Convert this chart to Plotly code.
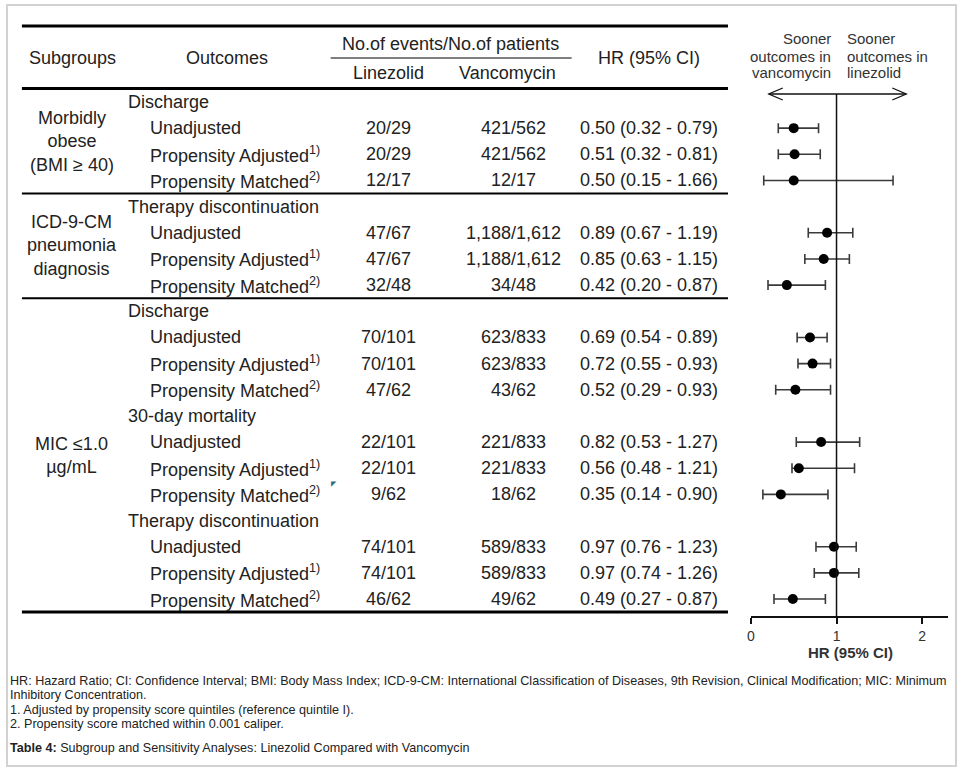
import plotly.graph_objects as go

# ---------------- data ----------------
outcome_labels = [
    "Discharge", "Unadjusted", "Propensity Adjusted<sup>1)</sup>", "Propensity Matched<sup>2)</sup>",
    "Therapy discontinuation", "Unadjusted", "Propensity Adjusted<sup>1)</sup>", "Propensity Matched<sup>2)</sup>",
    "Discharge", "Unadjusted", "Propensity Adjusted<sup>1)</sup>", "Propensity Matched<sup>2)</sup>",
    "30-day mortality", "Unadjusted", "Propensity Adjusted<sup>1)</sup>", "Propensity Matched<sup>2)</sup>",
    "Therapy discontinuation", "Unadjusted", "Propensity Adjusted<sup>1)</sup>", "Propensity Matched<sup>2)</sup>",
]
is_header = [True, False, False, False] * 5
linezolid = [None, "20/29", "20/29", "12/17", None, "47/67", "47/67", "32/48",
             None, "70/101", "70/101", "47/62", None, "22/101", "22/101", "9/62",
             None, "74/101", "74/101", "46/62"]
vancomycin = [None, "421/562", "421/562", "12/17", None, "1,188/1,612", "1,188/1,612", "34/48",
              None, "623/833", "623/833", "43/62", None, "221/833", "221/833", "18/62",
              None, "589/833", "589/833", "49/62"]
hr = [None, 0.50, 0.51, 0.50, None, 0.89, 0.85, 0.42,
      None, 0.69, 0.72, 0.52, None, 0.82, 0.56, 0.35,
      None, 0.97, 0.97, 0.49]
ci_low = [None, 0.32, 0.32, 0.15, None, 0.67, 0.63, 0.20,
          None, 0.54, 0.55, 0.29, None, 0.53, 0.48, 0.14,
          None, 0.76, 0.74, 0.27]
ci_high = [None, 0.79, 0.81, 1.66, None, 1.19, 1.15, 0.87,
           None, 0.89, 0.93, 0.93, None, 1.27, 1.21, 0.90,
           None, 1.23, 1.26, 0.87]
subgroups = ["Morbidly<br>obese<br>(BMI ≥ 40)", "ICD-9-CM<br>pneumonia<br>diagnosis", "MIC ≤1.0<br>µg/mL"]
subgroup_center_rows = [1.5, 5.5, 13.5]
left_note = ["Sooner", "outcomes in", "vancomycin"]
right_note = ["Sooner", "outcomes in", "linezolid"]
x_ticks = [0, 1, 2]

footnotes = [
    "HR: Hazard Ratio; CI: Confidence Interval; BMI: Body Mass Index; ICD-9-CM: International Classification of Diseases, 9th Revision, Clinical Modification; MIC: Minimum",
    "Inhibitory Concentration.",
    "1. Adjusted by propensity score quintiles (reference quintile I).",
    "2. Propensity score matched within 0.001 caliper.",
    "<b>Table 4:</b> Subgroup and Sensitivity Analyses: Linezolid Compared with Vancomycin",
]

# ---------------- layout helpers ----------------
W, H = 962, 770
TOP_PX, PITCH = 102.0, 26.16


def px(x):
    return x / W


def py(y):
    return 1 - y / H


FONT = "Arial, Liberation Sans, Helvetica, sans-serif"
TXT = "#222222"

fig = go.Figure()

rows = list(range(len(outcome_labels)))
pts_y = [r for r in rows if hr[r] is not None]
pts_x = [hr[r] for r in pts_y]
err_p = [ci_high[r] - hr[r] for r in pts_y]
err_m = [hr[r] - ci_low[r] for r in pts_y]

fig.add_trace(go.Scatter(
    x=pts_x, y=pts_y, mode="markers",
    marker=dict(size=10, color="#000000"),
    error_x=dict(type="data", symmetric=False, array=err_p, arrayminus=err_m,
                 color="#3a3a3a", thickness=1.6, width=5),
    showlegend=False, hoverinfo="skip", cliponaxis=False,
))

ann = []
shapes = []

# header
hdr_font = dict(family=FONT, size=18, color=TXT)
hdr = [
    dict(x=px(69), y=py(58), text="Subgroups"),
    dict(x=px(224), y=py(58), text="Outcomes"),
    dict(x=px(448), y=py(44), text="No.of events/No.of patients"),
    dict(x=px(386), y=py(73), text="Linezolid"),
    dict(x=px(506), y=py(73), text="Vancomycin"),
    dict(x=px(648), y=py(58), text="HR (95% CI)"),
]
for a in hdr:
    a.update(xref="paper", yref="paper", showarrow=False, xanchor="center",
             yanchor="middle", font=hdr_font)
ann += hdr

# rows
for r in rows:
    ann.append(dict(x=px(123 if is_header[r] else 145), y=r, xref="paper", yref="y",
                    text=outcome_labels[r], showarrow=False, xanchor="left",
                    yanchor="middle", font=hdr_font))
    if linezolid[r] is not None:
        ann.append(dict(x=px(386), y=r, xref="paper", yref="y", text=linezolid[r],
                        showarrow=False, xanchor="center", yanchor="middle", font=hdr_font))
        ann.append(dict(x=px(512), y=r, xref="paper", yref="y", text=vancomycin[r],
                        showarrow=False, xanchor="center", yanchor="middle", font=hdr_font))
        ann.append(dict(x=px(648), y=r, xref="paper", yref="y",
                        text=f"{hr[r]:.2f} ({ci_low[r]:.2f} - {ci_high[r]:.2f})",
                        showarrow=False, xanchor="center", yanchor="middle", font=hdr_font))

for lab, yc in zip(subgroups, subgroup_center_rows):
    ann.append(dict(x=px(68), y=yc, xref="paper", yref="y",
                    text=lab, showarrow=False, xanchor="center", yanchor="middle",
                    font=hdr_font))

# table rules
shapes.append(dict(type="line", xref="paper", yref="paper", x0=px(18), x1=px(727),
                   y0=py(26), y1=py(26), line=dict(color="#000", width=3)))
shapes.append(dict(type="line", xref="paper", yref="paper", x0=px(328), x1=px(570),
                   y0=py(58), y1=py(58), line=dict(color="#000", width=1.2)))
shapes.append(dict(type="line", xref="paper", yref="y", x0=px(18), x1=px(727),
                   y0=-0.52, y1=-0.52, line=dict(color="#000", width=3)))
for yb, wdt in [(3.5, 2), (7.5, 2), (19.5, 3)]:
    shapes.append(dict(type="line", xref="paper", yref="y", x0=px(18), x1=px(727),
                       y0=yb, y1=yb, line=dict(color="#000", width=wdt)))

# forest plot reference line and arrows
shapes.append(dict(type="line", xref="x", yref="paper", x0=1, x1=1, y0=py(94), y1=py(617),
                   line=dict(color="#111", width=1.5)))
shapes.append(dict(type="line", xref="paper", yref="paper", x0=px(768), x1=px(906),
                   y0=py(94), y1=py(94), line=dict(color="#111", width=1.3)))
shapes.append(dict(type="path", xref="paper", yref="paper",
                   path=f"M {px(782)},{py(88)} L {px(768)},{py(94)} L {px(782)},{py(100)}",
                   line=dict(color="#111", width=1.3)))
shapes.append(dict(type="path", xref="paper", yref="paper",
                   path=f"M {px(892)},{py(88)} L {px(906)},{py(94)} L {px(892)},{py(100)}",
                   line=dict(color="#111", width=1.3)))

small = dict(family=FONT, size=15, color="#333333")
for t, yy in zip(left_note, [39, 56, 73]):
    ann.append(dict(x=px(832), y=py(yy), xref="paper", yref="paper", showarrow=False,
                    text=t, xanchor="right", yanchor="middle", font=small))
for t, yy in zip(right_note, [39, 56, 73]):
    ann.append(dict(x=px(845), y=py(yy), xref="paper", yref="paper", showarrow=False,
                    text=t, xanchor="left", yanchor="middle", font=small))
ann.append(dict(x=px(850), y=py(652), xref="paper", yref="paper", showarrow=False,
                text="<b>HR (95% CI)</b>", xanchor="center", yanchor="middle",
                font=dict(family=FONT, size=15, color="#333333")))

# small marker artifact
ann.append(dict(x=px(331), y=py(484), xref="paper", yref="paper", showarrow=False,
                text="◤", xanchor="center", yanchor="middle",
                font=dict(family="DejaVu Sans", size=7, color="#2f6f80")))

# footnotes
foot_y = [681, 695, 710, 724, 748]
for t, yy in zip(footnotes, foot_y):
    ann.append(dict(x=px(4), y=py(yy), xref="paper", yref="paper", showarrow=False,
                    text=t, xanchor="left", yanchor="middle", align="left",
                    font=dict(family=FONT, size=12.6, color=TXT)))

# frame
shapes.append(dict(type="rect", xref="paper", yref="paper", x0=px(3), x1=px(956),
                   y0=py(5), y1=py(766), line=dict(color="#d2d2d2", width=2),
                   layer="below"))

fig.update_layout(
    width=W, height=H, autosize=False,
    margin=dict(l=0, r=0, t=0, b=0),
    paper_bgcolor="white", plot_bgcolor="rgba(0,0,0,0)",
    annotations=ann, shapes=shapes,
    xaxis=dict(domain=[px(750), px(750 + 86 * 2.3)], range=[0, 2.3],
               anchor="free", position=py(617), tickvals=x_ticks,
               showline=True, linecolor="#111", linewidth=1.5,
               ticks="outside", ticklen=6, tickwidth=1.5, tickcolor="#111",
               showgrid=False, zeroline=False, fixedrange=True,
               tickfont=dict(family=FONT, size=14, color="#333333")),
    yaxis=dict(domain=[0, 1], range=[(H - TOP_PX) / PITCH, -TOP_PX / PITCH],
               visible=False, showgrid=False, zeroline=False, fixedrange=True),
)

fig.write_html("out.html", config={"displayModeBar": False},
               post_script="document.body.style.margin='0';")
